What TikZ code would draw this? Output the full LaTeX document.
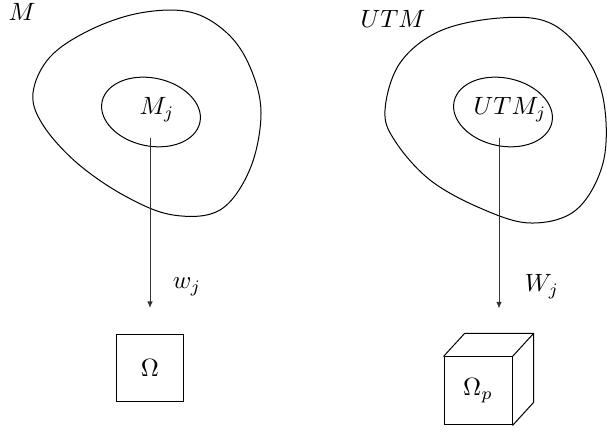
\documentclass[tikz,border=0pt]{standalone}
\usepackage{amsmath}
\usepackage{tikz}
\usetikzlibrary{arrows.meta,calc,positioning}
\tikzset{
  map arrow/.style={-{Latex[length=2.6pt,width=2.2pt]}, draw=black!80},
  region/.style={draw=black, thin},
  space label/.style={inner sep=1pt},
  target box/.style={draw=black, thin, minimum size=26.8pt, inner sep=0pt},
  cube face/.style={draw=black, thin, minimum size=27.2pt, inner sep=0pt}
}
\begin{document}
\begin{tikzpicture}[x=4pt,y=4pt]
  \useasboundingbox (0,0) rectangle (60.7,43.3);

  % left: M and the piece M_j
  \draw[region] plot[smooth cycle, tension=0.6] coordinates {(3.3,34.0) (5.0,37.6)
    (9.0,40.3) (14.0,42.0) (19.0,42.1) (22.7,40.0) (25.0,36.6) (26.1,32.0) (25.0,26.4)
    (22.0,22.3) (17.3,21.8) (12.5,23.7) (7.7,27.0) (4.3,30.8)};
  \draw[region, rotate around={-12:(15.1,32.1)}] (15.1,32.1) ellipse [x radius=5.0, y radius=3.4];
  \node[space label] (M) at (2.2,42.1) {$M$};
  \node[space label] (Mj) at (15.7,32.3) {$M_j$};
  \node[target box] (omega) at (15.0,6.5) {$\Omega$};
  \draw[map arrow, shorten <=5pt, shorten >=10.4pt] (Mj.south -| omega.north) -- (omega.north);
  \node[space label] (wj) at (18.7,14.6) {$w_j$};

  % right: UTM and the piece UTM_j
  \draw[region] plot[smooth cycle, tension=0.6] coordinates {(38.5,32.3) (40.0,37.0)
    (44.0,40.2) (50.0,41.5) (55.0,41.0) (58.6,37.6) (60.4,33.0) (60.3,27.0) (57.6,22.3)
    (53.0,21.0) (48.0,22.5) (43.0,25.3) (39.5,29.2)};
  \draw[region, rotate around={-12:(50.3,32.1)}] (50.3,32.1) ellipse [x radius=5.0, y radius=3.4];
  \node[space label] (UTM) at (39.3,41.4) {$UTM$};
  \node[space label] (UTMj) at (51.0,32.3) {$UTM_j$};
  \node[cube face] (cube) at (47.8,4.2) {$\Omega_p$};
  \coordinate (cubetop) at ($(cube.north)+(2.1,2.3)$);
  \draw (cube.north west) -- ++(2.1,2.3) -- ($(cube.north east)+(2.1,2.3)$)
    -- ($(cube.south east)+(2.1,2.3)$) -- (cube.south east);
  \draw (cube.north east) -- ++(2.1,2.3);
  \draw[map arrow, shorten <=5pt, shorten >=10pt] (UTMj.south -| cubetop) -- (cubetop);
  \node[space label] (Wj) at (54.2,14.6) {$W_j$};
\end{tikzpicture}
\end{document}
